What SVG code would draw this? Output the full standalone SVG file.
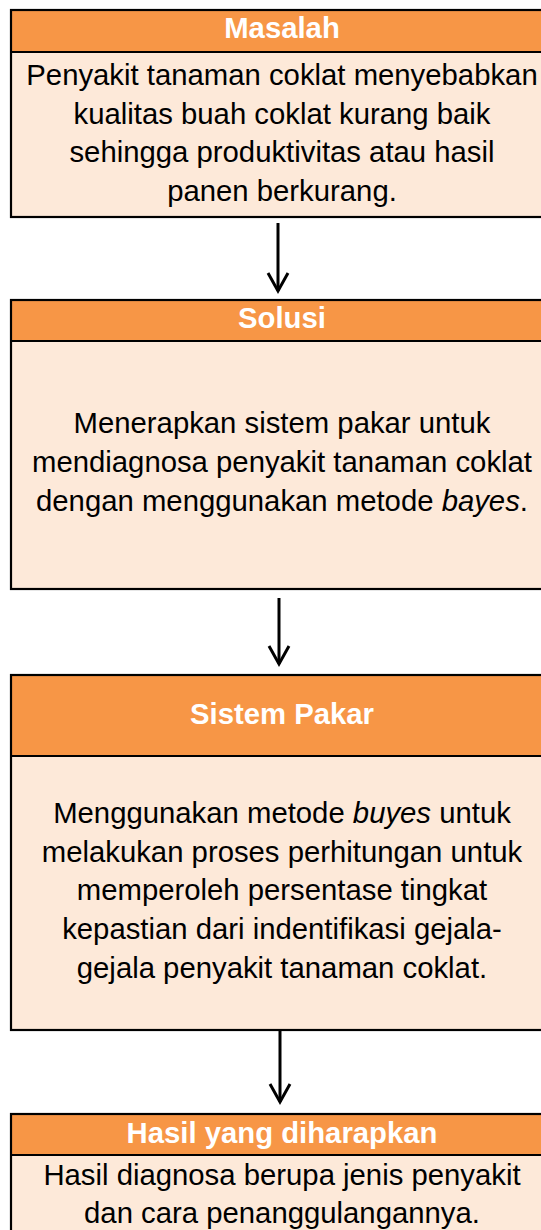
<svg xmlns="http://www.w3.org/2000/svg" width="541" height="1230" viewBox="0 0 541 1230">
<style>
.body{fill:#FDE9D9;stroke:none}
.head{fill:#F79646;stroke:none}
.border{fill:none;stroke:#000;stroke-width:2.2}
.ht{font-family:"Liberation Sans",Arial,sans-serif;font-size:29.3px;font-weight:bold;fill:#fff;text-anchor:middle}
.bt{font-family:"Liberation Sans",Arial,sans-serif;font-size:29.3px;fill:#000;text-anchor:middle}
.conn{fill:none;stroke:#000;stroke-width:3}
</style>
<g id="masalah">
<rect class="body" x="11" y="10" width="560" height="207"/>
<rect class="head" x="11" y="10" width="560" height="42"/>
<rect class="border" x="11" y="10" width="560" height="207"/>
<line class="border" x1="11" y1="52" x2="571" y2="52"/>
<text class="ht" x="282" y="38">Masalah</text>
<text class="bt" x="282" y="85">Penyakit tanaman coklat menyebabkan</text>
<text class="bt" x="282" y="123.5">kualitas buah coklat kurang baik</text>
<text class="bt" x="282" y="162">sehingga produktivitas atau hasil</text>
<text class="bt" x="282" y="200.5">panen berkurang.</text>
</g>
<g id="solusi">
<rect class="body" x="11" y="300" width="560" height="289"/>
<rect class="head" x="11" y="300" width="560" height="41"/>
<rect class="border" x="11" y="300" width="560" height="289"/>
<line class="border" x1="11" y1="341" x2="571" y2="341"/>
<text class="ht" x="282" y="327.5">Solusi</text>
<text class="bt" x="282" y="433">Menerapkan sistem pakar untuk</text>
<text class="bt" x="282" y="472">mendiagnosa penyakit tanaman coklat</text>
<text class="bt" x="282" y="511">dengan menggunakan metode <tspan font-style="italic">bayes</tspan>.</text>
</g>
<g id="sistem-pakar">
<rect class="body" x="11" y="675" width="560" height="355"/>
<rect class="head" x="11" y="675" width="560" height="81"/>
<rect class="border" x="11" y="675" width="560" height="355"/>
<line class="border" x1="11" y1="756" x2="571" y2="756"/>
<text class="ht" x="282" y="723.5">Sistem Pakar</text>
<text class="bt" x="282" y="823">Menggunakan metode <tspan font-style="italic">buyes</tspan> untuk</text>
<text class="bt" x="282" y="861.7">melakukan proses perhitungan untuk</text>
<text class="bt" x="282" y="900.4">memperoleh persentase tingkat</text>
<text class="bt" x="282" y="939.1">kepastian dari indentifikasi gejala-</text>
<text class="bt" x="282" y="977.8">gejala penyakit tanaman coklat.</text>
</g>
<g id="hasil">
<rect class="body" x="11" y="1114" width="560" height="140"/>
<rect class="head" x="11" y="1114" width="560" height="41"/>
<rect class="border" x="11" y="1114" width="560" height="140"/>
<line class="border" x1="11" y1="1155" x2="571" y2="1155"/>
<text class="ht" x="282" y="1142.7">Hasil yang diharapkan</text>
<text class="bt" x="282" y="1185">Hasil diagnosa berupa jenis penyakit</text>
<text class="bt" x="282" y="1223">dan cara penanggulangannya.</text>
</g>
<g id="connectors">
<line class="conn" x1="278" y1="223" x2="278" y2="291"/>
<polyline class="conn" points="268,273 278,291 288,273"/>
<line class="conn" x1="279" y1="598" x2="279" y2="664"/>
<polyline class="conn" points="269,646 279,664 289,646"/>
<line class="conn" x1="280" y1="1030" x2="280" y2="1102"/>
<polyline class="conn" points="270,1084 280,1102 290,1084"/>
</g>
</svg>
